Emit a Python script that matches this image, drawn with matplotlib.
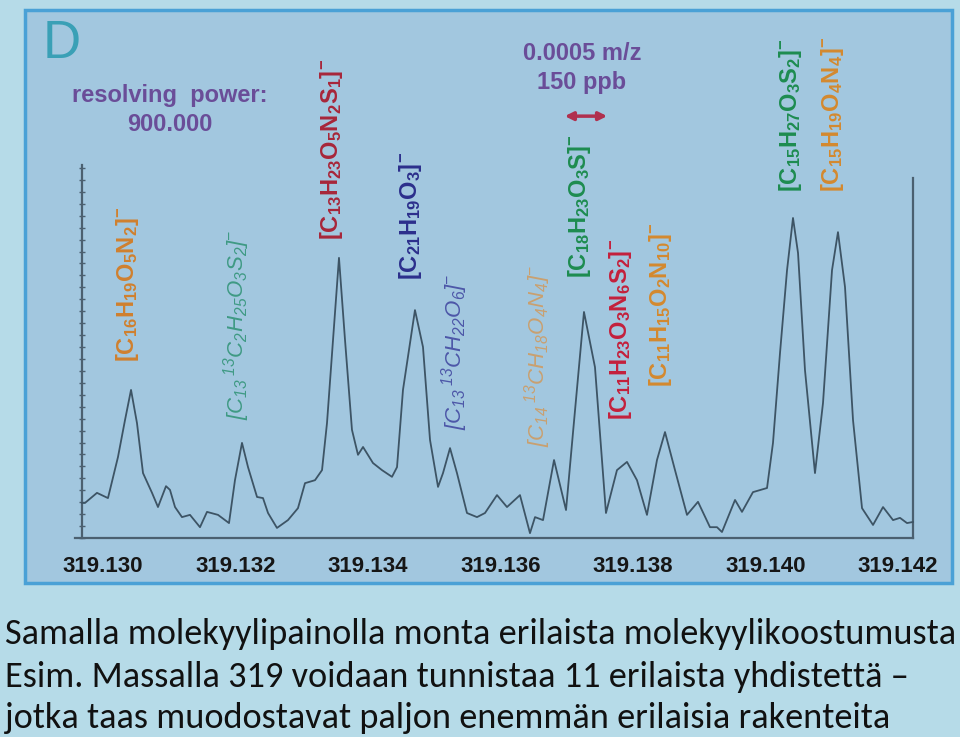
import numpy as np
import matplotlib
matplotlib.use("Agg")
import matplotlib.pyplot as plt
from matplotlib.patches import Rectangle
from matplotlib.ticker import MultipleLocator

# ---------------- data ----------------
mz = [319.129683, 319.129728, 319.129909, 319.130075, 319.130226, 319.130332, 319.130423,
      319.130513, 319.130604, 319.130740, 319.130830, 319.130951, 319.131011, 319.131087,
      319.131192, 319.131313, 319.131464, 319.131570, 319.131736, 319.131902, 319.131992,
      319.132098, 319.132189, 319.132325, 319.132415, 319.132491, 319.132626, 319.132792,
      319.132943, 319.133049, 319.133200, 319.133306, 319.133381, 319.133472, 319.133562,
      319.133653, 319.133758, 319.133849, 319.133925, 319.134075, 319.134211, 319.134362,
      319.134438, 319.134528, 319.134709, 319.134830, 319.134936, 319.135057, 319.135132,
      319.135238, 319.135343, 319.135494, 319.135645, 319.135766, 319.135947, 319.136098,
      319.136294, 319.136445, 319.136521, 319.136642, 319.136808, 319.136989, 319.137094,
      319.137260, 319.137426, 319.137592, 319.137758, 319.137909, 319.138060, 319.138211,
      319.138362, 319.138483, 319.138634, 319.138815, 319.138981, 319.139162, 319.139268,
      319.139343, 319.139540, 319.139645, 319.139811, 319.140023, 319.140113, 319.140219,
      319.140325, 319.140415, 319.140491, 319.140596, 319.140747, 319.140868, 319.141004,
      319.141094, 319.141200, 319.141321, 319.141457, 319.141623, 319.141774, 319.141925,
      319.142030, 319.142136, 319.142226]
intensity = [9.4, 9.4, 12.1, 10.7, 21.7, 31.6, 39.7,
             30.8, 17.4, 12.1, 8.3, 13.9, 12.9, 8.3,
             5.6, 6.2, 2.9, 7.0, 6.2, 4.0, 15.5,
             25.5, 19.0, 11.0, 10.7, 6.7, 2.7, 4.8,
             8.0, 14.7, 15.5, 18.2, 30.8, 53.1, 75.1,
             53.1, 29.0, 22.3, 24.4, 20.1, 18.2, 16.4,
             19.0, 39.7, 61.1, 51.2, 26.3, 13.7, 17.4,
             24.1, 17.4, 6.7, 5.6, 6.7, 11.5, 8.3,
             11.5, 1.3, 5.6, 4.8, 20.9, 7.5, 28.2,
             60.6, 45.8, 6.7, 18.2, 20.4, 15.5, 6.2,
             20.9, 28.4, 18.2, 6.2, 9.7, 2.9, 2.9,
             1.6, 10.2, 7.0, 12.3, 13.4, 25.5, 49.6,
             71.8, 85.8, 76.4, 45.0, 17.4, 36.2, 71.8,
             82.0, 67.3, 31.6, 8.0, 3.5, 8.3, 4.8,
             5.4, 4.0, 4.3]

tick_values = [319.130, 319.132, 319.134, 319.136, 319.138, 319.140, 319.142]
tick_labels = ["319.130", "319.132", "319.134", "319.136", "319.138", "319.140", "319.142"]

label_texts = [r"$[C_{16}H_{19}O_5N_2]^{-}$",
               r"$[C_{13}\,{}^{13}C_2H_{25}O_3S_2]^{-}$",
               r"$[C_{13}H_{23}O_5N_2S_1]^{-}$",
               r"$[C_{21}H_{19}O_3]^{-}$",
               r"$[C_{13}\,{}^{13}CH_{22}O_6]^{-}$",
               r"$[C_{14}\,{}^{13}CH_{18}O_4N_4]^{-}$",
               r"$[C_{18}H_{23}O_3S]^{-}$",
               r"$[C_{11}H_{23}O_3N_6S_2]^{-}$",
               r"$[C_{11}H_{15}O_2N_{10}]^{-}$",
               r"$[C_{15}H_{27}O_3S_2]^{-}$",
               r"$[C_{15}H_{19}O_4N_4]^{-}$"]
label_mz = [319.130377, 319.132023, 319.133442, 319.134634, 319.135313, 319.136566,
            319.137200, 319.137804, 319.138408, 319.140370, 319.141004]
label_base = [47.2, 31.6, 79.9, 69.2, 29.0, 24.4, 69.7, 31.6, 40.5, 92.8, 92.8]
label_colors = ["#d0802e", "#3f9a84", "#a8263a", "#2c2f8c", "#4d57a8", "#c9a070",
                "#1d8c50", "#c4203c", "#d4892e", "#1d8c50", "#d4892e"]
label_italic = [False, True, False, False, True, True, False, False, False, False, False]

caption_lines = ["Samalla molekyylipainolla monta erilaista molekyylikoostumusta",
                 "Esim. Massalla 319 voidaan tunnistaa 11 erilaista yhdistettä –",
                 "jotka taas muodostavat paljon enemmän erilaisia rakenteita"]

# ---------------- figure ----------------
plt.rcParams["mathtext.default"] = "regular"
W, H = 960, 737
fig = plt.figure(figsize=(W / 100, H / 100), dpi=100, facecolor="#b6dbe8")

def fx(px):
    return px / W

def fy(py):
    return 1 - py / H

panel = Rectangle((fx(25), fy(583)), fx(952) - fx(25), fy(10) - fy(583),
                  transform=fig.transFigure, facecolor="#a2c7df",
                  edgecolor="#4aa1d6", linewidth=2.5, zorder=0)
fig.add_artist(panel)

ax = fig.add_axes([fx(75), fy(538), fx(913) - fx(75), fy(165) - fy(538)])
ax.set_facecolor("none")
ax.set_zorder(1)

px_per_unit = 66250.0
ax.set_xlim(319.130 - 28 / px_per_unit, 319.130 + 810 / px_per_unit)
ax.set_ylim(0, 100)

spine_col = "#4b6070"
ax.spines["top"].set_visible(False)
for s in ("left", "right", "bottom"):
    ax.spines[s].set_color(spine_col)
    ax.spines[s].set_linewidth(1.6)
ax.spines["left"].set_position(("data", 319.130 - 21 / px_per_unit))
ax.spines["right"].set_bounds(0, 96.5)

ax.yaxis.set_major_locator(MultipleLocator(3.2))
ax.tick_params(axis="y", direction="inout", length=4, width=1, colors=spine_col,
               labelleft=False, right=False)
ax.set_xticks(tick_values)
ax.set_xticklabels(tick_labels, fontsize=16, fontweight="bold",
                   family="Liberation Sans", color="#161616")
ax.tick_params(axis="x", length=0, pad=13)

ax.plot(mz, intensity, color="#3d5465", lw=1.3, clip_on=False, zorder=3)

for s, x, y, c, it in zip(label_texts, label_mz, label_base, label_colors, label_italic):
    ax.text(x, y, s, rotation=90, ha="center", va="bottom", color=c,
            fontsize=16 if it else 17,
            fontweight="normal" if it else "bold",
            fontstyle="italic" if it else "normal",
            family="Liberation Sans", clip_on=False, zorder=4)

# double arrow 0.0005 m/z
ax.annotate("", xy=(319.13761, 113.1), xytext=(319.13697, 113.1),
            arrowprops=dict(arrowstyle="<|-|>", color="#b0304e", lw=2.5,
                            mutation_scale=12, shrinkA=0, shrinkB=0),
            annotation_clip=False)

# text annotations
fig.text(fx(62), fy(44), "D", fontsize=38, color="#3aa0b6", ha="center", va="center",
         family="Liberation Sans")
fig.text(fx(170), fy(110), "resolving  power:\n900.000", fontsize=17, fontweight="bold",
         color="#6a4d98", ha="center", va="center", linespacing=1.35,
         family="Liberation Sans")
fig.text(fx(582), fy(68), "0.0005 m/z\n150 ppb", fontsize=17, fontweight="bold",
         color="#6a4d98", ha="center", va="center", linespacing=1.35,
         family="Liberation Sans")

# caption
cap_fams = ["Carlito", "Lato", "DejaVu Sans"]
baselines = [644, 687, 728]
fs0 = 28
caps = [fig.text(fx(5), fy(b), s, fontsize=fs0, family=cap_fams, color="#111111",
                 ha="left", va="baseline") for s, b in zip(caption_lines, baselines)]
fig.canvas.draw()
r = fig.canvas.get_renderer()
w = caps[0].get_window_extent(r).width
for t in caps:
    t.set_fontsize(fs0 * 948 / w)

fig.savefig("out.png", dpi=100, facecolor=fig.get_facecolor())
